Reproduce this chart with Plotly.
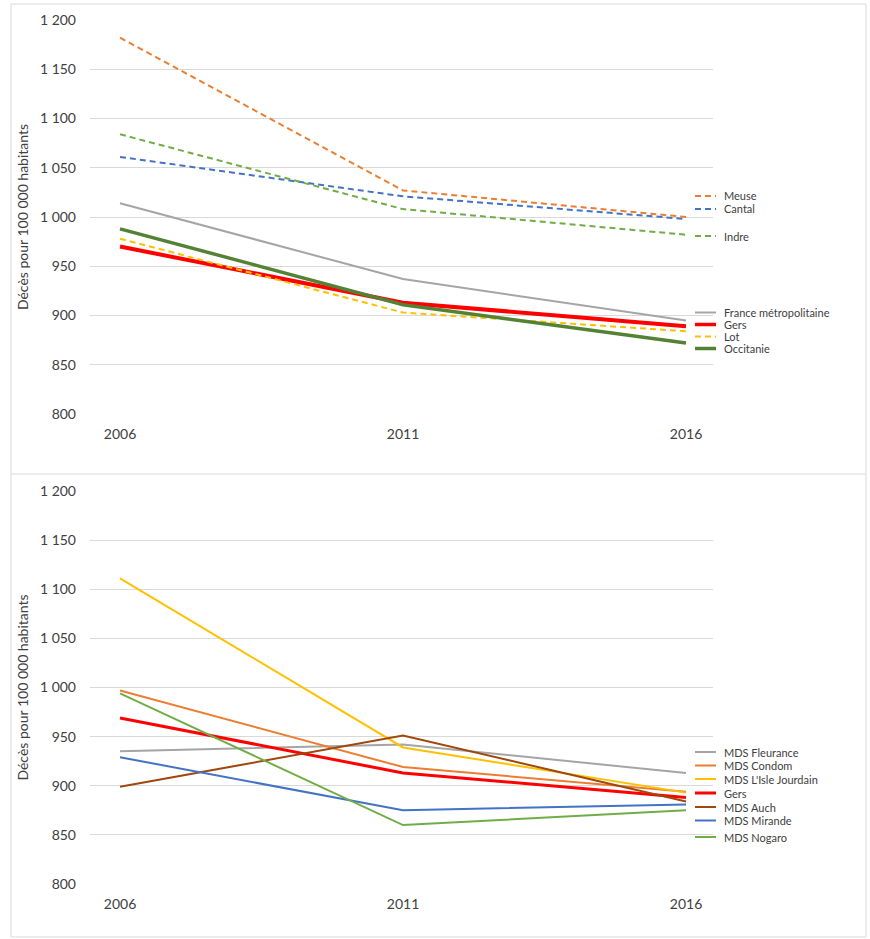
import plotly.graph_objects as go

# ---------------- data ----------------
years = [2006, 2011, 2016]

# top panel
meuse = [1182, 1027, 1000]
cantal = [1061, 1021, 998]
indre = [1084, 1008, 982]
france_metro = [1014, 937, 895]
gers = [970, 913, 889]
lot = [978, 903, 884]
occitanie = [988, 911, 872]

# bottom panel
mds_fleurance = [935, 942, 913]
mds_condom = [997, 919, 894]
mds_isle_jourdain = [1111, 939, 893]
gers_b = [969, 913, 888]
mds_auch = [899, 951, 884]
mds_mirande = [929, 875, 881]
mds_nogaro = [994, 860, 875]

tick_vals = [800, 850, 900, 950, 1000, 1050, 1100, 1150, 1200]
tick_text = ["800", "850", "900", "950", "1 000", "1 050", "1 100", "1 150", "1 200"]
year_labels = ["2006", "2011", "2016"]
y_title = "Décès pour 100 000 habitants"

# ---------------- styling ----------------
W, H = 870, 939
FONT = "Lato"
DASH = "6px,4px"

top_series = [
    ("Meuse", meuse, "#ED7D31", 2, DASH, 196),
    ("Cantal", cantal, "#4472C4", 2, DASH, 209),
    ("Indre", indre, "#70AD47", 2, DASH, 236),
    ("France métropolitaine", france_metro, "#A5A5A5", 2, "solid", 312.5),
    ("Gers", gers, "#FF0000", 4, "solid", 324.5),
    ("Lot", lot, "#FFC000", 2, DASH, 336.5),
    ("Occitanie", occitanie, "#548235", 3.5, "solid", 348.5),
]
bottom_series = [
    ("MDS Fleurance", mds_fleurance, "#A5A5A5", 2, "solid", 752),
    ("MDS Condom", mds_condom, "#ED7D31", 2, "solid", 765.5),
    ("MDS L'Isle Jourdain", mds_isle_jourdain, "#FFC000", 2, "solid", 779),
    ("Gers", gers_b, "#FF0000", 3, "solid", 793),
    ("MDS Auch", mds_auch, "#9E480E", 2, "solid", 807),
    ("MDS Mirande", mds_mirande, "#4472C4", 2, "solid", 820.5),
    ("MDS Nogaro", mds_nogaro, "#70AD47", 2, "solid", 837),
]

def py(px):
    return 1 - px / H

def pxx(px):
    return px / W

fig = go.Figure()
shapes = []
annotations = []

for name, vals, col, w, dash, _ in top_series:
    fig.add_trace(go.Scatter(x=years, y=vals, mode="lines", name=name,
                             line=dict(color=col, width=w, dash=dash),
                             xaxis="x", yaxis="y", showlegend=False))
for name, vals, col, w, dash, _ in bottom_series:
    fig.add_trace(go.Scatter(x=years, y=vals, mode="lines", name=name,
                             line=dict(color=col, width=w, dash=dash),
                             xaxis="x2", yaxis="y2", showlegend=False))

# legend (manual)
for name, vals, col, w, dash, ypx in top_series + bottom_series:
    shapes.append(dict(type="line", xref="paper", yref="paper",
                       x0=pxx(695), x1=pxx(716), y0=py(ypx), y1=py(ypx),
                       line=dict(color=col, width=min(w, 3.5), dash=dash)))
    annotations.append(dict(x=pxx(722), y=py(ypx), xref="paper", yref="paper",
                            text=name, showarrow=False, xanchor="left", yanchor="middle",
                            font=dict(family=FONT, size=11, color="#404040")))

# frame
grid_col = "#D9D9D9"
shapes.append(dict(type="rect", xref="paper", yref="paper",
                   x0=pxx(11), x1=pxx(866), y0=py(937), y1=py(4),
                   line=dict(color=grid_col, width=1)))
shapes.append(dict(type="line", xref="paper", yref="paper",
                   x0=pxx(11), x1=pxx(866), y0=py(474), y1=py(474),
                   line=dict(color=grid_col, width=1)))

xrange = [2006 - 30 / 56.6, 2016 + 27 / 56.6]
xdom = [pxx(90), pxx(713)]

xaxis_common = dict(range=xrange, domain=xdom, tickvals=years, ticktext=year_labels,
                    showgrid=False, zeroline=False, showline=False, ticks="",
                    automargin=False,
                    tickfont=dict(family=FONT, size=14, color="#404040"),
                    ticklabelstandoff=10)
yaxis_common = dict(range=[800, 1200], tickvals=tick_vals, ticktext=tick_text,
                    showgrid=True, gridcolor=grid_col, gridwidth=1, zeroline=False,
                    showline=False, ticks="", automargin=False,
                    tickfont=dict(family=FONT, size=14, color="#404040"),
                    ticklabelstandoff=13,
                    title=dict(text=y_title, font=dict(family=FONT, size=14, color="#404040"),
                               standoff=8))

fig.update_layout(
    width=W, height=H,
    margin=dict(l=0, r=0, t=0, b=0, pad=0),
    paper_bgcolor="white", plot_bgcolor="white",
    showlegend=False,
    xaxis=dict(**xaxis_common, anchor="y"),
    yaxis=dict(**yaxis_common, domain=[py(414), py(20)], anchor="x"),
    xaxis2=dict(**xaxis_common, anchor="y2"),
    yaxis2=dict(**yaxis_common, domain=[py(884), py(491)], anchor="x2"),
    shapes=shapes,
    annotations=annotations,
)

fig.write_html(
    "out.html",
    config={"displayModeBar": False},
    post_script=(
        "document.documentElement.style.margin='0';"
        "document.body.style.margin='0';"
        "document.body.style.padding='0';"
        "var d=document.getElementById('{plot_id}');"
        "d.style.position='fixed';d.style.left='0px';d.style.top='0px';"
        "window.scrollTo(0,0);"
    ),
)
